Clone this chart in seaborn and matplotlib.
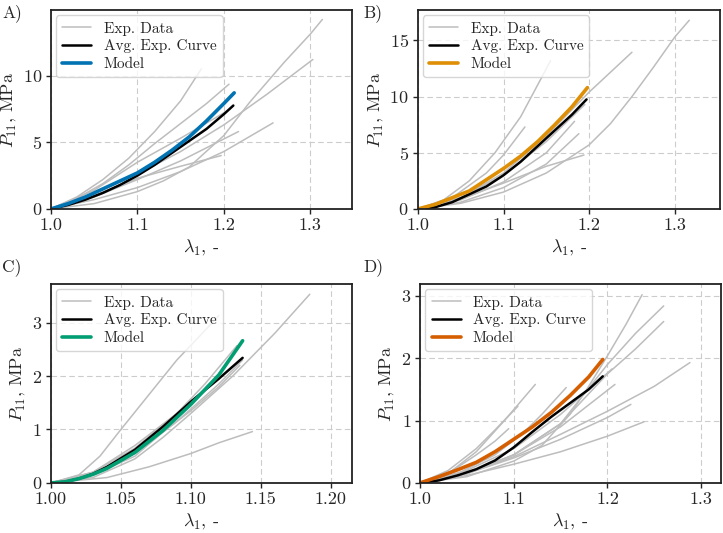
import numpy as np
import pandas as pd
import matplotlib
matplotlib.use("Agg")
import matplotlib.pyplot as plt
import seaborn as sns

# ---- data (lambda_1, P_11 in MPa) ----
# Panel A
a_exp = [
    ([1.0, 1.03, 1.06, 1.09, 1.12, 1.15, 1.174], [0, 0.9, 2.2, 3.8, 5.8, 8.1, 10.5]),
    ([1.0, 1.03, 1.06, 1.09, 1.12, 1.15, 1.18, 1.206], [0, 0.8, 1.9, 3.3, 4.9, 6.4, 7.9, 9.35]),
    ([1.0, 1.05, 1.10, 1.13, 1.16, 1.20, 1.23, 1.27, 1.30, 1.314], [0, 0.4, 1.3, 2.1, 3.15, 5.5, 8.0, 11.0, 13.1, 14.2]),
    ([1.0, 1.05, 1.10, 1.15, 1.20, 1.25, 1.303], [0, 1.2, 2.6, 4.3, 6.3, 8.6, 11.2]),
    ([1.0, 1.05, 1.10, 1.15, 1.20, 1.257], [0, 0.7, 1.6, 2.8, 4.3, 6.45]),
    ([1.0, 1.05, 1.10, 1.15, 1.217], [0, 0.9, 2.2, 3.6, 5.8]),
    ([1.0, 1.05, 1.10, 1.15, 1.197], [0, 1.0, 2.3, 3.2, 4.0]),
    ([1.0, 1.05, 1.10, 1.15, 1.20], [0, 1.4, 3.5, 5.3, 7.2]),
]
a_avg_x = [1.0, 1.02, 1.04, 1.06, 1.08, 1.10, 1.12, 1.14, 1.16, 1.18, 1.20, 1.211]
a_avg_y = [0, 0.3, 0.7, 1.2, 1.8, 2.5, 3.3, 4.2, 5.1, 6.0, 7.1, 7.75]
a_mod_x = [1.0, 1.02, 1.04, 1.06, 1.08, 1.10, 1.12, 1.14, 1.16, 1.18, 1.20, 1.212]
a_mod_y = [0, 0.4, 0.9, 1.5, 2.1, 2.7, 3.5, 4.4, 5.4, 6.6, 7.9, 8.7]

# Panel B
b_exp = [
    ([1.0, 1.03, 1.06, 1.09, 1.12, 1.155], [0, 0.8, 2.5, 5.0, 8.2, 13.2]),
    ([1.0, 1.04, 1.08, 1.10, 1.125], [0, 1.0, 3.2, 4.8, 7.3]),
    ([1.0, 1.05, 1.10, 1.15, 1.20, 1.25], [0, 1.0, 3.2, 6.5, 10.4, 13.95]),
    ([1.0, 1.05, 1.10, 1.15, 1.20, 1.225, 1.25, 1.275, 1.30, 1.317], [0, 0.5, 1.5, 3.2, 5.7, 7.6, 10.0, 12.6, 15.3, 16.8]),
    ([1.0, 1.05, 1.10, 1.15, 1.183], [0, 0.8, 2.4, 5.0, 7.8]),
    ([1.0, 1.05, 1.10, 1.15, 1.188], [0, 0.6, 1.9, 4.0, 6.7]),
    ([1.0, 1.05, 1.10, 1.15, 1.194], [0, 0.9, 2.3, 3.8, 4.8]),
    ([1.0, 1.05, 1.10, 1.15, 1.195], [0, 1.0, 3.0, 6.0, 9.3]),
]
b_avg_x = [1.0, 1.02, 1.04, 1.06, 1.08, 1.10, 1.12, 1.14, 1.16, 1.18, 1.197]
b_avg_y = [0, 0.15, 0.6, 1.3, 2.0, 3.0, 4.2, 5.6, 7.0, 8.4, 9.75]
b_mod_x = [1.0, 1.02, 1.04, 1.06, 1.08, 1.10, 1.12, 1.14, 1.16, 1.18, 1.198]
b_mod_y = [0, 0.4, 1.0, 1.6, 2.6, 3.6, 4.7, 6.0, 7.5, 9.1, 10.8]

# Panel C
c_exp = [
    ([1.0, 1.02, 1.035, 1.05, 1.07, 1.09, 1.11, 1.12], [0, 0.15, 0.5, 1.0, 1.65, 2.3, 2.85, 3.13]),
    ([1.0, 1.03, 1.06, 1.08, 1.10, 1.13, 1.16, 1.185], [0, 0.1, 0.45, 0.85, 1.3, 2.0, 2.8, 3.53]),
    ([1.0, 1.04, 1.07, 1.10, 1.12, 1.144], [0, 0.1, 0.3, 0.55, 0.75, 0.96]),
    ([1.0, 1.03, 1.06, 1.09, 1.11, 1.133], [0, 0.2, 0.65, 1.3, 1.85, 2.57]),
    ([1.0, 1.03, 1.06, 1.09, 1.12, 1.137], [0, 0.15, 0.55, 1.15, 1.85, 2.3]),
    ([1.0, 1.03, 1.06, 1.09, 1.115], [0, 0.2, 0.7, 1.3, 1.85]),
    ([1.0, 1.03, 1.06, 1.08, 1.10, 1.12, 1.135], [0, 0.15, 0.5, 0.95, 1.35, 1.8, 2.2]),
]
c_avg_x = [1.0, 1.01, 1.02, 1.03, 1.04, 1.06, 1.08, 1.10, 1.12, 1.137]
c_avg_y = [0, 0.02, 0.08, 0.17, 0.3, 0.62, 1.05, 1.52, 1.95, 2.34]
c_mod_x = [1.0, 1.01, 1.02, 1.03, 1.04, 1.06, 1.08, 1.10, 1.12, 1.137]
c_mod_y = [0, 0.02, 0.08, 0.16, 0.27, 0.57, 0.98, 1.47, 2.02, 2.66]

# Panel D
d_exp = [
    ([1.0, 1.03, 1.06, 1.09, 1.123], [0, 0.15, 0.5, 1.0, 1.58]),
    ([1.0, 1.03, 1.06, 1.08, 1.1045], [0, 0.2, 0.55, 0.85, 1.23]),
    ([1.0, 1.03, 1.06, 1.08, 1.0946], [0, 0.15, 0.45, 0.67, 0.87]),
    ([1.0, 1.04, 1.08, 1.11, 1.13, 1.156], [0, 0.15, 0.45, 0.8, 1.1, 1.53]),
    ([1.0, 1.05, 1.10, 1.13, 1.16, 1.18, 1.20, 1.22, 1.237], [0, 0.1, 0.35, 0.6, 1.1, 1.55, 2.04, 2.55, 3.02]),
    ([1.0, 1.05, 1.10, 1.15, 1.20, 1.23, 1.26], [0, 0.15, 0.45, 0.95, 1.9, 2.4, 2.84]),
    ([1.0, 1.05, 1.10, 1.15, 1.20, 1.23, 1.26], [0, 0.15, 0.45, 0.95, 1.75, 2.15, 2.59]),
    ([1.0, 1.05, 1.10, 1.15, 1.20, 1.25, 1.288], [0, 0.15, 0.42, 0.78, 1.15, 1.55, 1.93]),
    ([1.0, 1.05, 1.10, 1.15, 1.208], [0, 0.15, 0.45, 0.9, 1.58]),
    ([1.0, 1.05, 1.10, 1.15, 1.20, 1.225], [0, 0.15, 0.4, 0.7, 1.05, 1.26]),
    ([1.0, 1.05, 1.10, 1.15, 1.20, 1.239], [0, 0.12, 0.3, 0.5, 0.75, 0.98]),
    ([1.0, 1.05, 1.10, 1.15, 1.205], [0, 0.2, 0.55, 1.1, 1.83]),
]
d_avg_x = [1.0, 1.02, 1.04, 1.06, 1.08, 1.10, 1.12, 1.14, 1.16, 1.18, 1.195]
d_avg_y = [0, 0.04, 0.12, 0.22, 0.36, 0.57, 0.82, 1.06, 1.28, 1.5, 1.71]
d_mod_x = [1.0, 1.02, 1.04, 1.06, 1.08, 1.10, 1.12, 1.14, 1.16, 1.18, 1.195]
d_mod_y = [0, 0.1, 0.21, 0.33, 0.5, 0.7, 0.9, 1.13, 1.4, 1.7, 1.98]

pal = sns.color_palette("colorblind")
panels = [
    ("A)", a_exp, a_avg_x, a_avg_y, a_mod_x, a_mod_y, pal[0], (1.0, 1.348), (0, 14.9), [1.0, 1.1, 1.2, 1.3], [0, 5, 10]),
    ("B)", b_exp, b_avg_x, b_avg_y, b_mod_x, b_mod_y, pal[1], (1.0, 1.353), (0, 17.7), [1.0, 1.1, 1.2, 1.3], [0, 5, 10, 15]),
    ("C)", c_exp, c_avg_x, c_avg_y, c_mod_x, c_mod_y, pal[2], (1.0, 1.215), (0, 3.72), [1.0, 1.05, 1.1, 1.15, 1.2], [0, 1, 2, 3]),
    ("D)", d_exp, d_avg_x, d_avg_y, d_mod_x, d_mod_y, pal[3], (1.0, 1.321), (0, 3.19), [1.0, 1.1, 1.2, 1.3], [0, 1, 2, 3]),
]

sns.set_style("ticks")
plt.rcParams["font.family"] = ["cmr10", "DejaVu Serif"]
plt.rcParams["mathtext.fontset"] = "cm"
plt.rcParams["axes.formatter.use_mathtext"] = True
plt.rcParams["font.size"] = 13

fig = plt.figure(figsize=(7.23, 5.33), dpi=100)
positions = [
    [0.0705, 0.608, 0.416, 0.373],
    [0.578, 0.608, 0.418, 0.373],
    [0.0705, 0.094, 0.416, 0.373],
    [0.581, 0.094, 0.416, 0.373],
]
label_pos = [(0.003, 0.992), (0.503, 0.992), (0.003, 0.515), (0.503, 0.515)]

for (tag, exp, ax_, ay_, mx_, my_, col, xl, yl, xt, yt), pos, lp in zip(panels, positions, label_pos):
    ax = fig.add_axes(pos)
    ax.grid(True, linestyle=(0, (5, 3)), color="#cccccc", linewidth=0.8)
    for i, (ex, ey) in enumerate(exp):
        sns.lineplot(x=ex, y=ey, ax=ax, color="#bdbdbd", linewidth=1.1, sort=False,
                     estimator=None, label="Exp. Data" if i == 0 else None)
    sns.lineplot(x=ax_, y=ay_, ax=ax, color="black", linewidth=1.8, sort=False,
                 estimator=None, label="Avg. Exp. Curve")
    sns.lineplot(x=mx_, y=my_, ax=ax, color=col, linewidth=2.6, sort=False,
                 estimator=None, label="Model")
    ax.set_xlim(*xl)
    ax.set_ylim(*yl)
    ax.set_xticks(xt)
    ax.set_yticks(yt)
    if tag == "C)":
        ax.xaxis.set_major_formatter(matplotlib.ticker.FormatStrFormatter("%.2f"))
    else:
        ax.xaxis.set_major_formatter(matplotlib.ticker.FormatStrFormatter("%.1f"))
    ax.set_xlabel(r"$\lambda_1$, -", fontsize=13, labelpad=3)
    ax.set_ylabel(r"$P_{11}$, MPa", fontsize=13, labelpad=3)
    for s in ax.spines.values():
        s.set_linewidth(1.3)
        s.set_color("#222222")
    ax.tick_params(labelsize=13, length=3.5, width=1.0, pad=3)
    ax.legend(loc="upper left", fontsize=11, frameon=True, fancybox=True,
              edgecolor="#cccccc", framealpha=0.8, handlelength=1.9,
              labelspacing=0.25, borderaxespad=0.35, borderpad=0.4)
    fig.text(lp[0], lp[1], tag, ha="left", va="top", fontsize=12.5)

fig.savefig("out.png", dpi=100)
